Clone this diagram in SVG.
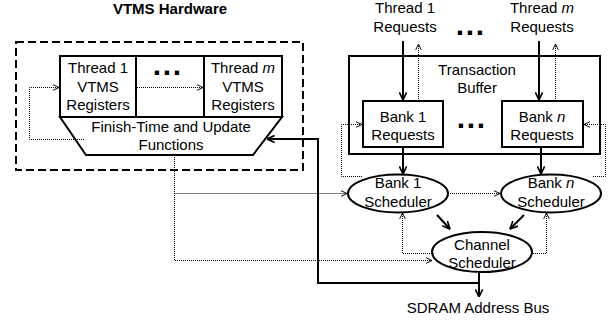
<svg xmlns="http://www.w3.org/2000/svg" width="612" height="324" viewBox="0 0 612 324">
<style>
text{font-family:"Liberation Sans",Arial,sans-serif;font-size:15px;fill:#000;text-anchor:middle}
.b{font-weight:bold}
.dots{font-weight:bold;font-size:30px;letter-spacing:1.7px;text-anchor:start}
.box{fill:#fff;stroke:#000;stroke-width:2}
.sol{fill:none;stroke:#000;stroke-width:2}
.dot{fill:none;stroke:#000;stroke-width:1;stroke-dasharray:1,1}
.i{font-style:italic}
</style>
<defs>
<marker id="ah" viewBox="0 0 10 10" refX="9.5" refY="5" markerWidth="9" markerHeight="9" orient="auto" markerUnits="userSpaceOnUse"><path d="M1,1 L9.5,5 L1,9" fill="none" stroke="#000" stroke-width="1.8"/></marker>
<marker id="dh" viewBox="0 0 10 10" refX="9.5" refY="5" markerWidth="7" markerHeight="7" orient="auto" markerUnits="userSpaceOnUse"><path d="M1,1 L9.5,5 L1,9" fill="none" stroke="#000" stroke-width="1.4"/></marker>
</defs>
<rect width="612" height="324" fill="#fff"/>

<g id="vtms-hardware">
<text class="b" x="170" y="14">VTMS Hardware</text>
<rect x="16" y="42" width="287" height="128" fill="none" stroke="#000" stroke-width="2" stroke-dasharray="8,4"/>
</g>

<g id="vtms-registers">
<rect class="box" x="60" y="56" width="222" height="61"/>
<line class="sol" x1="136" y1="56" x2="136" y2="117"/>
<line class="sol" x1="204" y1="56" x2="204" y2="117"/>
<text x="98" y="73">Thread 1</text>
<text x="98" y="91.5">VTMS</text>
<text x="98" y="110">Registers</text>
<text class="dots" x="152.8" y="75">...</text>
<text x="243" y="73">Thread <tspan class="i">m</tspan></text>
<text x="243" y="91.5">VTMS</text>
<text x="243" y="110">Registers</text>
</g>

<g id="finish-time">
<polygon class="box" points="60,117 282,117 253,155 86,155"/>
<text x="171" y="132">Finish-Time and Update</text>
<text x="171" y="150">Functions</text>
</g>

<g id="thread1-requests">
<text x="405" y="13">Thread 1</text>
<text x="405" y="32">Requests</text>
</g>
<text class="dots" x="455.8" y="35">...</text>
<g id="threadm-requests">
<text x="542" y="13">Thread <tspan class="i">m</tspan></text>
<text x="542" y="32">Requests</text>
</g>

<g id="transaction-buffer">
<rect class="box" x="349" y="56" width="251" height="98"/>
<text x="477" y="75">Transaction</text>
<text x="477" y="93">Buffer</text>
</g>

<g id="bank1-requests">
<rect class="box" x="363" y="101" width="80" height="46"/>
<text x="403" y="121.5">Bank 1</text>
<text x="403" y="139.5">Requests</text>
</g>
<text class="dots" x="456.8" y="128">...</text>
<g id="bankn-requests">
<rect class="box" x="502" y="101" width="81" height="46"/>
<text x="542" y="121.5">Bank <tspan class="i">n</tspan></text>
<text x="542" y="139.5">Requests</text>
</g>

<g id="bank1-scheduler">
<ellipse class="box" cx="398" cy="193.5" rx="50" ry="19"/>
<text x="398" y="188">Bank 1</text>
<text x="398" y="207">Scheduler</text>
</g>

<g id="bankn-scheduler">
<ellipse class="box" cx="551" cy="193.5" rx="50" ry="19"/>
<text x="551" y="188">Bank <tspan class="i">n</tspan></text>
<text x="551" y="207">Scheduler</text>
</g>

<g id="channel-scheduler">
<ellipse class="box" cx="482" cy="252" rx="50" ry="20"/>
<text x="482" y="250">Channel</text>
<text x="482" y="268">Scheduler</text>
</g>

<g id="sdram-bus">
<text x="478" y="313">SDRAM Address Bus</text>
</g>

<g id="connectors">
<path class="sol" d="M403,41 V100" marker-end="url(#ah)"/>
<path class="sol" d="M539,41 V100" marker-end="url(#ah)"/>
<path class="sol" d="M403,147 V174" marker-end="url(#ah)"/>
<path class="sol" d="M541,147 V174" marker-end="url(#ah)"/>
<path class="sol" d="M437,215 L450,229" marker-end="url(#ah)"/>
<path class="sol" d="M524,215 L510,229" marker-end="url(#ah)"/>
<path class="sol" d="M479,272 V297" marker-end="url(#ah)"/>
<path class="sol" d="M479,283 H318 V139 H267" marker-end="url(#ah)"/>

<path class="dot" d="M418.5,101 V44" marker-end="url(#dh)"/>
<path class="dot" d="M555.5,101 V44" marker-end="url(#dh)"/>
<path class="dot" d="M362,176.5 H341.5 V124.5 H362" marker-end="url(#dh)"/>
<path class="dot" d="M593,176.5 H605.5 V124.5 H584" marker-end="url(#dh)"/>
<path class="dot" d="M84,139.5 H29.5 V87.5 H59" marker-end="url(#dh)"/>
<path class="dot" d="M137,87.5 H203" marker-end="url(#dh)"/>
<path class="dot" d="M174.5,155 V260.5 H432" marker-end="url(#dh)"/>
<path class="dot" d="M174.5,193.5 H347" marker-end="url(#dh)"/>
<path class="dot" d="M448,193.5 H500" marker-end="url(#dh)"/>
<path class="dot" d="M434,253.5 H402.5 V213" marker-end="url(#dh)"/>
<path class="dot" d="M531,253.5 H546.5 V213" marker-end="url(#dh)"/>
</g>
</svg>
